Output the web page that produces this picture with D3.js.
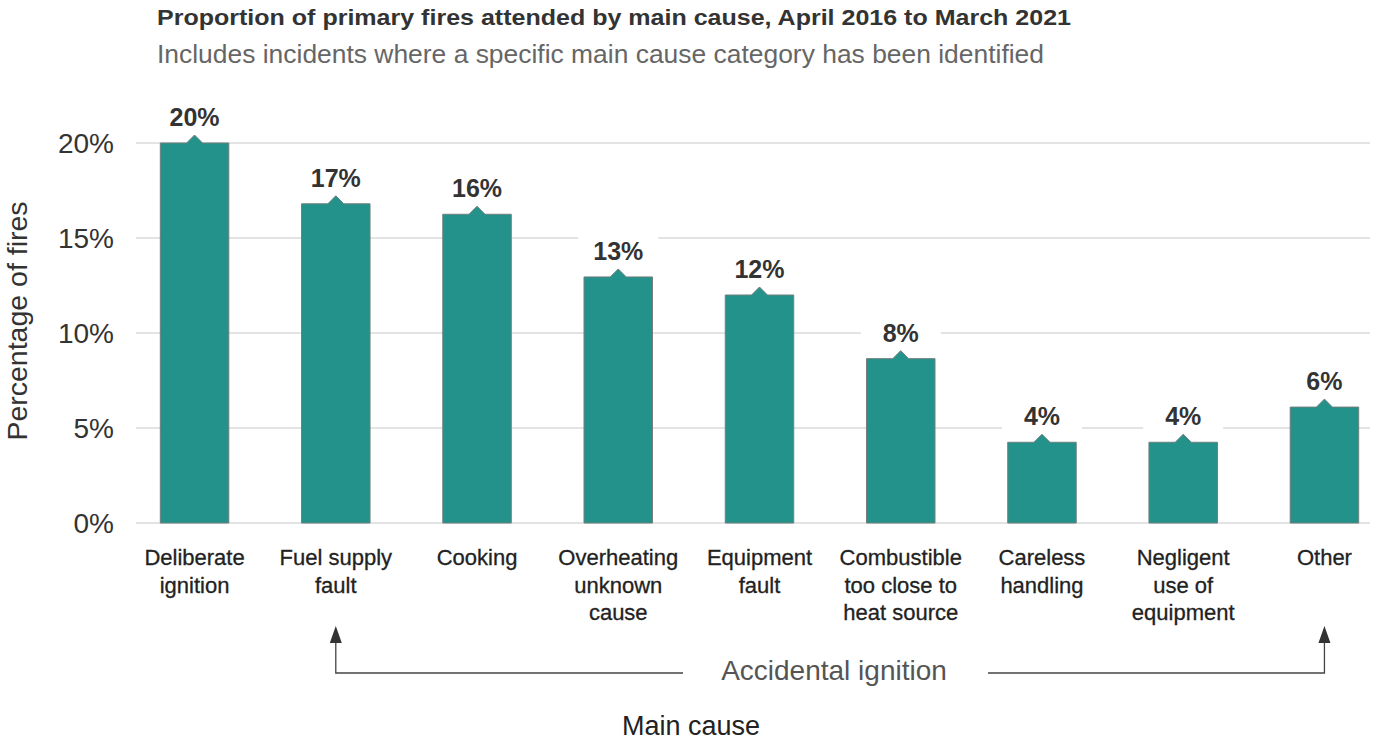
<!DOCTYPE html>
<html><head><meta charset="utf-8">
<script src="https://cdn.jsdelivr.net/npm/d3@7"></script>
<style>body{margin:0;background:#fff;font-family:"Liberation Sans",Arial,sans-serif;}</style>
</head><body><svg id="c" width="1386" height="743"></svg>
<script>
const categories = ["Deliberate ignition","Fuel supply fault","Cooking","Overheating unknown cause","Equipment fault","Combustible too close to heat source","Careless handling","Negligent use of equipment","Other"];
const categoryLines = [["Deliberate","ignition"],["Fuel supply","fault"],["Cooking"],["Overheating","unknown","cause"],["Equipment","fault"],["Combustible","too close to","heat source"],["Careless","handling"],["Negligent","use of","equipment"],["Other"]];
const values = [20.0, 16.8, 16.25, 12.95, 12.0, 8.65, 4.25, 4.25, 6.1];
const valueLabels = ["20%","17%","16%","13%","12%","8%","4%","4%","6%"];
const yTicks = [0,5,10,15,20];

const svg = d3.select("#c");
const x = d3.scaleBand().domain(categories).range([125,1394]).paddingInner(0.515).paddingOuter(0.25);
const y = d3.scaleLinear().domain([0,20]).range([523,143]);
const teal = "#23928a";

svg.append("text").attr("x",157).attr("y",25).attr("font-size",22).attr("font-weight","bold").attr("fill","#333")
  .attr("textLength",914).attr("lengthAdjust","spacingAndGlyphs")
  .text("Proportion of primary fires attended by main cause, April 2016 to March 2021");
svg.append("text").attr("x",157).attr("y",63).attr("font-size",26).attr("fill","#666")
  .attr("textLength",887).attr("lengthAdjust","spacingAndGlyphs")
  .text("Includes incidents where a specific main cause category has been identified");

// gridlines
svg.append("g").selectAll("line").data(yTicks).join("line")
  .attr("x1",136).attr("x2",1370).attr("y1",d=>y(d)).attr("y2",d=>y(d))
  .attr("stroke","#c8c8c8").attr("stroke-width",1.2);
svg.append("g").selectAll("text").data(yTicks).join("text")
  .attr("x",114).attr("y",d=>y(d)+10).attr("text-anchor","end").attr("font-size",28).attr("fill","#333")
  .text(d=>d+"%");
svg.append("text").attr("transform","translate(27,321) rotate(-90)").attr("text-anchor","middle")
  .attr("font-size",28.5).attr("fill","#333").text("Percentage of fires");

const bw = x.bandwidth();
const g = svg.append("g");
const cx = c => x(c)+bw/2;
// label backgrounds
g.selectAll("rect.lb").data(categories).join("rect").attr("class","lb")
  .attr("x",c=>cx(c)-40).attr("y",(c,i)=>y(values[i])-42).attr("width",80).attr("height",32).attr("fill","#fff");
// bars with pointer
g.selectAll("path.bar").data(categories).join("path").attr("class","bar")
  .attr("d",(c,i)=>{const x0=x(c),x1=x(c)+bw,t=y(values[i]),b=y(0),m=cx(c);
    return `M${x0},${b}L${x0},${t}L${m-8},${t}L${m},${t-8}L${m+8},${t}L${x1},${t}L${x1},${b}Z`;})
  .attr("fill",teal).attr("stroke","#6f7f7d").attr("stroke-width",1);
g.selectAll("text.vl").data(categories).join("text").attr("class","vl")
  .attr("x",cx).attr("y",(c,i)=>y(values[i])-17).attr("text-anchor","middle")
  .attr("font-size",25).attr("font-weight","bold").attr("fill","#333").text((c,i)=>valueLabels[i]);

// x labels
const xl = svg.append("g").selectAll("text").data(categories).join("text")
  .attr("x",cx).attr("y",565).attr("text-anchor","middle").attr("font-size",22).attr("fill","#222")
  .attr("stroke","#222").attr("stroke-width",0.3);
xl.selectAll("tspan").data((c,i)=>categoryLines[i]).join("tspan")
  .attr("x",function(){return this.parentNode.getAttribute("x");}).attr("dy",(d,j)=>j?27.5:0).text(d=>d);

// accidental ignition bracket
const a0 = cx(categories[1]), a1 = cx(categories[8]);
svg.append("path").attr("d",`M${a0},640L${a0},673L683,673`).attr("fill","none").attr("stroke","#444").attr("stroke-width",1.3);
svg.append("path").attr("d",`M988,673L${a1},673L${a1},640`).attr("fill","none").attr("stroke","#444").attr("stroke-width",1.3);
[a0,a1].forEach(a=>svg.append("path").attr("d",`M${a},626L${a-6},643L${a+6},643Z`).attr("fill","#333"));
svg.append("text").attr("x",834).attr("y",680).attr("text-anchor","middle").attr("font-size",28).attr("fill","#555").text("Accidental ignition");
svg.append("text").attr("x",691).attr("y",735).attr("text-anchor","middle").attr("font-size",27).attr("fill","#222").text("Main cause");
</script></body></html>
